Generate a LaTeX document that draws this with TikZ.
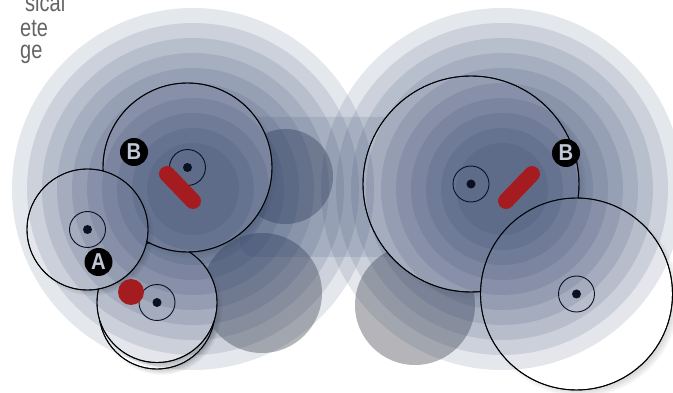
\documentclass[tikz,border=0pt]{standalone}
\usepackage{fontspec}
\setmainfont{Liberation Sans}
\newfontfamily\condfont{Liberation Sans}[FakeStretch=0.8]
\newfontfamily\labfont{Liberation Sans}[FakeStretch=0.88]
\usetikzlibrary{shadows,fadings}
\definecolor{ringc}{RGB}{40,60,100}
\definecolor{grayc}{RGB}{90,92,100}
\definecolor{redc}{RGB}{165,28,32}
\definecolor{inkc}{RGB}{10,18,34}
\definecolor{labc}{RGB}{192,199,214}
\definecolor{txtc}{RGB}{100,100,100}
\newcommand\holeclip[1]{\clip (-20,-20) rectangle (700,420) #1;}
\begin{document}
\begin{tikzpicture}[x=1pt,y=-1pt,
  ring/.style={fill=ringc, fill opacity=0.125},
  grayblob/.style={fill=grayc, fill opacity=0.45},
  gear/.style={fill=white, draw=black, line width=0.9pt},
  rim/.style={draw=black, line width=0.9pt},
  gshadow/.style={circular drop shadow={shadow xshift=4pt, shadow yshift=-4pt, shadow scale=1.03, opacity=0.55}},
  hub/.style={draw=inkc, line width=0.9pt},
  dot/.style={fill=inkc},
  redbar/.style={draw=redc, line width=16pt, line cap=round},
  lab/.style={circle, fill=black, inner sep=0pt, minimum size=28pt, text=labc, font=\labfont\bfseries\fontsize{23}{23}\selectfont},
  txt/.style={text=txtc, font=\condfont\fontsize{25}{25}\selectfont, inner sep=0pt, anchor=base west}]
\useasboundingbox (0,0) rectangle (673,393);
% centres
\coordinate (LR) at (193,189);
\coordinate (RR) at (502,189);
\coordinate (gB) at (187.5,167.5);
\coordinate (gA) at (87.5,229.5);
\coordinate (gC) at (157,302.5);
\coordinate (gCs) at (157,311);
\coordinate (gR) at (471,184);
\coordinate (gW) at (576.5,294);
\coordinate (c1) at (285.5,176.5);
\coordinate (c2) at (262,293);
\coordinate (c3) at (415,305);
% grey blobs
\fill[grayblob] (c1) circle[radius=47.5pt];
\fill[grayblob] (c2) circle[radius=60pt];
\fill[grayblob] (c3) circle[radius=60pt];
% band
\fill[ring, rounded corners=14pt] (240,117) rectangle (430,257);
% gears
\path[gear, gshadow] (gCs) circle[radius=58pt];
\path[gear, gshadow] (gC) circle[radius=60pt];
\path[gear, gshadow] (gB) circle[radius=84.5pt];
\path[gear, gshadow] (gA) circle[radius=60.5pt];
\path[gear, gshadow] (gR) circle[radius=108pt];
\path[gear, gshadow] (gW) circle[radius=96pt];
% rings
\foreach \r in {181,166,...,46} {
  \fill[ring] (LR) circle[radius=\r pt];
  \fill[ring] (RR) circle[radius=\r pt];
}
% gear rims redrawn on top
\begin{scope}[even odd rule]
  \holeclip{(gC) circle[radius=60pt]}
  \begin{scope}
    \holeclip{(gA) circle[radius=60.5pt]}
    \draw[rim] (gCs) circle[radius=58pt];
  \end{scope}
\end{scope}
\begin{scope}[even odd rule]
  \holeclip{(gA) circle[radius=60.5pt]}
  \begin{scope}
    \holeclip{(gB) circle[radius=84.5pt]}
    \draw[rim] (gC) circle[radius=60pt];
  \end{scope}
  \draw[rim] (gB) circle[radius=84.5pt];
\end{scope}
\draw[rim] (gA) circle[radius=60.5pt];
\begin{scope}[even odd rule]
  \holeclip{(gW) circle[radius=96pt]}
  \draw[rim] (gR) circle[radius=108pt];
\end{scope}
\draw[rim] (gW) circle[radius=96pt];
% hubs
\foreach \g in {gB,gA,gC,gR,gW} {
  \draw[hub] (\g) circle[radius=18pt];
  \fill[dot] (\g) circle[radius=4.5pt];
}
% red parts
\coordinate (r1a) at (167,174);
\coordinate (r1b) at (193,201);
\coordinate (r2a) at (506,201);
\coordinate (r2b) at (532,174);
\coordinate (rd) at (131,292);
\draw[redbar] (r1a) -- (r1b);
\draw[redbar] (r2a) -- (r2b);
\fill[redc] (rd) circle[radius=13pt];
% labels
\node[lab] (labB1) at (134,152) {B};
\node[lab] (labA) at (98.5,262) {A};
\node[lab] (labB2) at (566,153) {B};
% text
\node[txt] (t1) at (25,12) {sical};
\node[txt] (t2) at (20,36.5) {ete};
\node[txt] (t3) at (20,58.5) {ge};
\end{tikzpicture}
\end{document}
